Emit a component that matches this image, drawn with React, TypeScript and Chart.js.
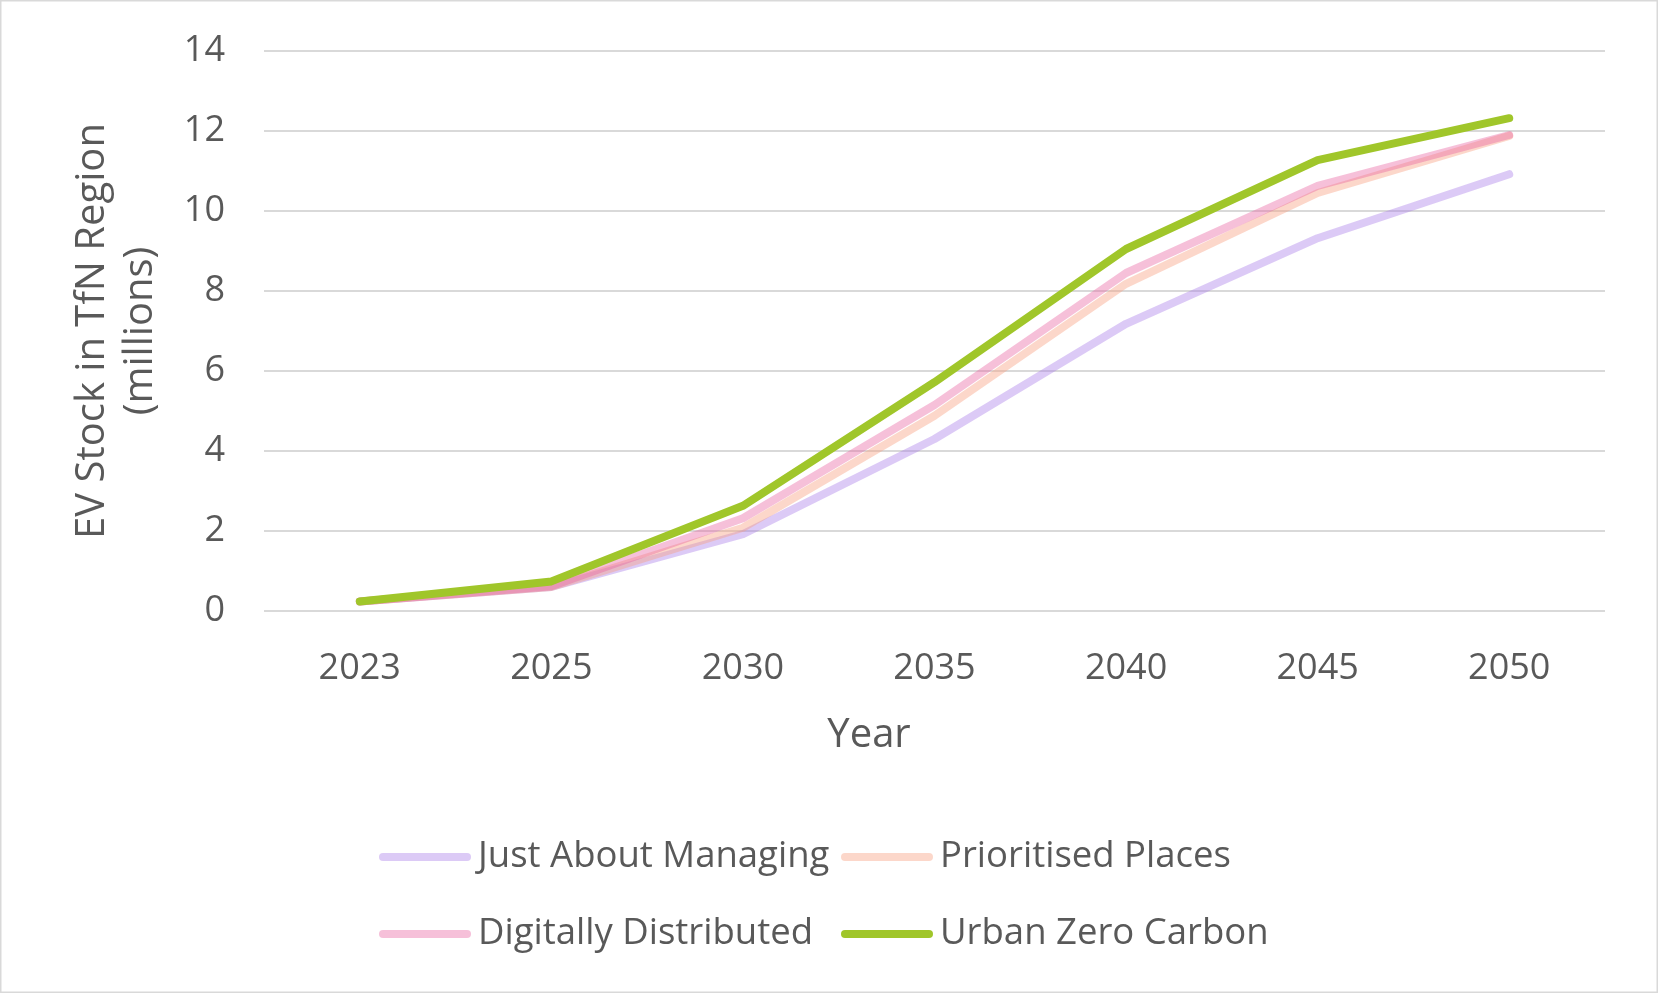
import React, { useEffect, useRef } from "react";
import { Chart, registerables } from "chart.js";

Chart.register(...registerables);

const years = ["2023", "2025", "2030", "2035", "2040", "2045", "2050"];
const seriesNames = ["Just About Managing", "Prioritised Places", "Digitally Distributed", "Urban Zero Carbon"];
const justAboutManaging = [0.24, 0.6, 1.92, 4.3, 7.18, 9.32, 10.92];
const prioritisedPlaces = [0.24, 0.6, 2.08, 4.88, 8.18, 10.45, 11.88];
const digitallyDistributed = [0.24, 0.62, 2.32, 5.15, 8.45, 10.63, 11.9];
const urbanZeroCarbon = [0.24, 0.74, 2.63, 5.72, 9.05, 11.27, 12.32];
const yTicks = [0, 2, 4, 6, 8, 10, 12, 14];
const xTitle = "Year";
const yTitle = ["EV Stock in TfN Region", "(millions)"];

const FONT = "'Open Sans', 'Noto Sans', sans-serif";
const TEXT = "#595959";

const legendPlugin = {
  id: "customLegend",
  afterDraw(chart: any) {
    const ctx = chart.ctx;
    const ds = chart.data.datasets;
    const cols = [379, 841];
    const rows = [857, 934];
    ctx.save();
    ctx.font = `36.5px ${FONT}`;
    ctx.textBaseline = "middle";
    ctx.textAlign = "left";
    ds.forEach((d: any, i: number) => {
      const x = cols[i % 2];
      const y = rows[Math.floor(i / 2)];
      ctx.strokeStyle = d.borderColor;
      ctx.lineWidth = d.borderWidth;
      ctx.lineCap = "round";
      ctx.beginPath();
      ctx.moveTo(x + 4, y);
      ctx.lineTo(x + 88, y);
      ctx.stroke();
      ctx.fillStyle = TEXT;
      ctx.fillText(d.label, x + 99, y);
    });
    // x-axis title
    ctx.font = `40px ${FONT}`;
    ctx.textAlign = "center";
    ctx.fillText(xTitle, 869, 736);
    ctx.restore();
  },
};

const borderPlugin = {
  id: "frame",
  afterDraw(chart: any) {
    const ctx = chart.ctx;
    ctx.save();
    ctx.strokeStyle = "#D9D9D9";
    ctx.lineWidth = 1.5;
    ctx.strokeRect(0.75, 0.75, chart.width - 1.5, chart.height - 1.5);
    ctx.restore();
  },
};

export default function App() {
  const ref = useRef<HTMLCanvasElement>(null);
  useEffect(() => {
    if (!ref.current) return;
    const mk = (label: string, data: number[], color: string, order: number) => ({
      label,
      data,
      borderColor: color,
      backgroundColor: color,
      borderWidth: 8,
      pointRadius: 0,
      tension: 0,
      borderCapStyle: "round" as const,
      borderJoinStyle: "round" as const,
      order,
    });
    const chart = new Chart(ref.current, {
      type: "line",
      data: {
        labels: years,
        datasets: [
          mk(seriesNames[0], justAboutManaging, "rgba(167,123,232,0.4)", 4),
          mk(seriesNames[1], prioritisedPlaces, "rgba(247,160,129,0.42)", 3),
          mk(seriesNames[2], digitallyDistributed, "rgba(233,97,159,0.4)", 2),
          mk(seriesNames[3], urbanZeroCarbon, "#A0C62A", 1),
        ],
      },
      options: {
        animation: false,
        responsive: false,
        maintainAspectRatio: false,
        layout: { padding: { left: 0, right: 53, top: 51, bottom: 240 } },
        plugins: { legend: { display: false }, tooltip: { enabled: false } },
        scales: {
          x: {
            type: "category",
            offset: true,
            grid: { display: false, drawTicks: false },
            border: { display: false },
            ticks: { color: TEXT, font: { family: FONT, size: 36 }, padding: 36, maxRotation: 0 },
            title: { display: false },
            afterFit: (s: any) => {
              s.height = 142;
              s.paddingLeft = 0;
              s.paddingRight = 0;
            },
          },
          y: {
            min: 0,
            max: 14,
            afterBuildTicks: (s: any) => {
              s.ticks = yTicks.map((v) => ({ value: v }));
            },
            grid: { color: "#D9D9D9", lineWidth: 2, drawTicks: false },
            border: { display: false },
            ticks: { color: TEXT, font: { family: FONT, size: 36 }, padding: 39 },
            title: {
              display: true,
              text: yTitle,
              color: TEXT,
              font: { family: FONT, size: 40, lineHeight: 1.19 },
              padding: { top: 69, bottom: 0 },
            },
            afterFit: (s: any) => {
              s.width = 264;
              s.paddingTop = 0;
              s.paddingBottom = 0;
            },
          },
        },
      },
      plugins: [legendPlugin, borderPlugin],
    });
    return () => chart.destroy();
  }, []);
  return (
    <div style={{ position: "fixed", left: 0, top: 0, width: 1658, height: 993, background: "#fff" }}>
      <canvas ref={ref} width={1658} height={993} style={{ display: "block" }} />
    </div>
  );
}
